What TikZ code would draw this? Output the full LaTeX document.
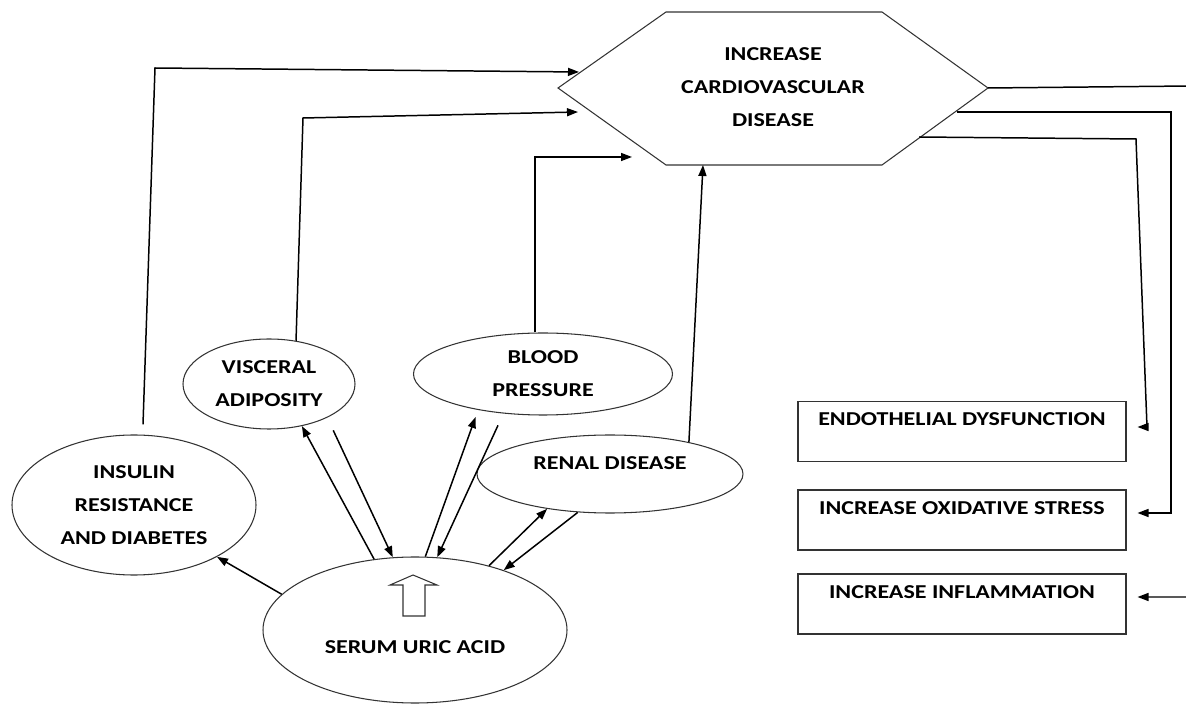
\documentclass[tikz,border=0pt]{standalone}
\usepackage{fontspec}
\setmainfont[FakeStretch=1.22]{Carlito}
\usetikzlibrary{arrows.meta,shapes.geometric}
\tikzset{uapanel/.style={
  font=\fontsize{11.2}{18.7}\selectfont\bfseries,
  blob/.style={ellipse, draw=black!80, line width=0.6pt, inner sep=0pt, align=center},
  factor/.style={rectangle, draw=black!80, line width=0.6pt, inner sep=0pt, minimum width=6.56cm, minimum height=1.2cm, text depth=0.48cm},
  edge/.style={draw=black!80, line width=0.6pt},
  link/.style={-{Triangle[length=2.2mm, width=1.6mm]}, line width=0.85pt},
}}

\begin{document}
\begin{tikzpicture}[uapanel]
\useasboundingbox (0,0) rectangle (23.72,14.14);

% =====================================================================
% top: the hexagon
% =====================================================================
\node[align=center] (cvd) at (15.46,12.40) {INCREASE\\CARDIOVASCULAR\\DISEASE};
\draw[edge] (11.16,12.38) -- (13.32,13.90) -- (17.64,13.90) -- (19.76,12.38) coordinate (cvdR)
  -- (17.64,10.84) -- (13.32,10.84) -- cycle;
\coordinate (cvdA) at (11.58,12.70);
\coordinate (cvdB) at (11.56,11.90);
\coordinate (cvdC) at (12.64,11.00);
\coordinate (cvdD) at (14.06,10.84);
\coordinate (cvdE) at (19.14,11.90);
\coordinate (cvdF) at (18.38,11.40);

% =====================================================================
% left: risk factors round the serum uric acid
% =====================================================================
\node[blob, minimum width=4.88cm, minimum height=2.80cm] (ins) at (2.68,4.04) {INSULIN\\RESISTANCE\\AND DIABETES};
\node[blob, minimum width=3.44cm, minimum height=1.80cm] (vis) at (5.38,6.46) {VISCERAL\\ADIPOSITY};
\node[blob, minimum width=5.18cm, minimum height=1.64cm] (bp) at (10.86,6.66) {BLOOD\\PRESSURE};
\node[blob, minimum width=5.32cm, minimum height=1.56cm, text depth=0.44cm] (ren) at (12.20,4.66) {RENAL DISEASE};
\node[blob, minimum width=6.08cm, minimum height=2.92cm, text height=0.93cm] (ser) at (8.30,1.54) {SERUM URIC ACID};
% hollow arrow inside the serum ellipse
\draw[edge] (8.06,1.82) -- (8.06,2.44) -- (7.80,2.44) -- (8.26,2.64) -- (8.74,2.44) -- (8.50,2.44) -- (8.50,1.82) -- cycle;

\draw[link] (ser.165) -- (ins.-32);
\draw[link] (ser.120) -- (vis.-52);
\draw[link, shorten <=2.8mm] (vis.-30) -- (ser.107);
\draw[link, shorten >=1.5mm] (ser.82) -- (bp.209);
\draw[link, shorten <=2.6mm] (bp.225) -- (ser.73);
\draw[link] (ser.41) -- (ren.209);
\draw[link] (ren.230) -- (ser.34);

% up into the hexagon
\draw[link] ([shift={(0.18,0.2)}]ins.north) -- (3.10,12.78) -- (cvdA);
\draw[link] (vis.58) -- (6.06,11.78) -- (cvdB);
\draw[link] ([xshift=-1.6mm]bp.north) |- (cvdC);
\draw[link] (ren.22) -- (cvdD);

% =====================================================================
% right: consequences
% =====================================================================
\node[factor] (endo) at (19.24,5.51) {ENDOTHELIAL DYSFUNCTION};
\node[factor] (oxi) at (19.24,3.74) {INCREASE OXIDATIVE STRESS};
\node[factor] (infl) at (19.24,2.06) {INCREASE INFLAMMATION};

\draw[link] (cvdR) -- (23.80,12.42) |- ([shift={(0.22,0.14)}]infl.east);
\draw[link] (cvdE) -- (23.42,11.90) |- ([shift={(0.22,0.14)}]oxi.east);
\draw[link] (cvdF) -- (22.72,11.36) -- (22.94,5.60) -- ([shift={(0.22,0.09)}]endo.east);

\end{tikzpicture}
\end{document}
